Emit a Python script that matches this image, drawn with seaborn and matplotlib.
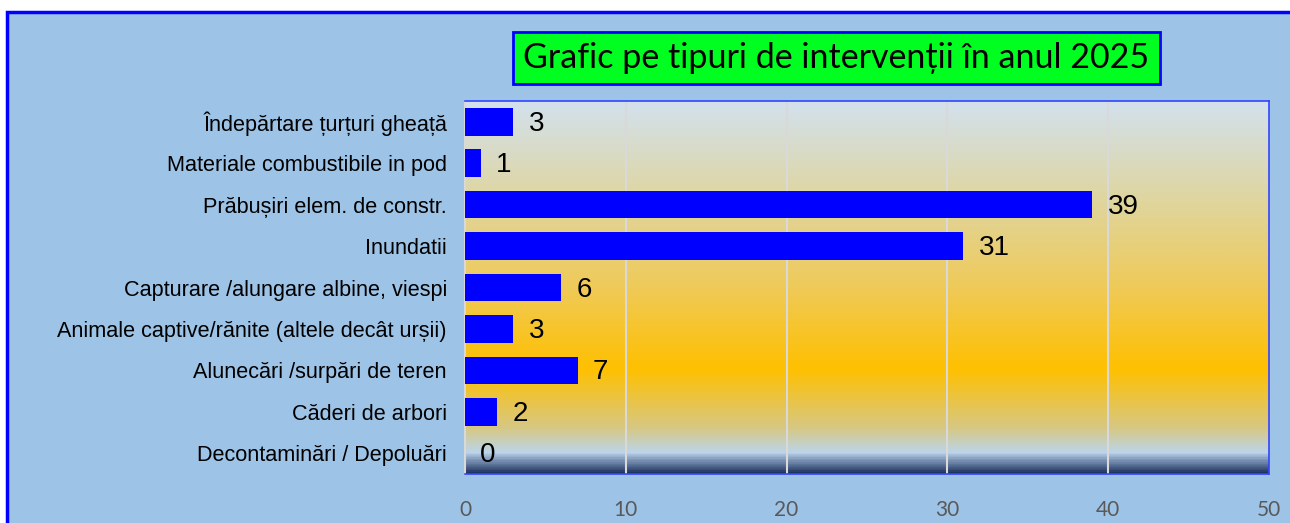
import numpy as np
import seaborn as sns
import matplotlib.pyplot as plt
from matplotlib.colors import LinearSegmentedColormap
from matplotlib.patches import Rectangle

categories = ["Îndepărtare țurțuri gheață",
              "Materiale combustibile in pod",
              "Prăbușiri elem. de constr.",
              "Inundatii",
              "Capturare /alungare albine, viespi",
              "Animale captive/rănite (altele decât urșii)",
              "Alunecări /surpări de teren",
              "Căderi de arbori",
              "Decontaminări / Depoluări"]
values = [3, 1, 39, 31, 6, 3, 7, 2, 0]
xticks = [0, 10, 20, 30, 40, 50]
title = "Grafic pe tipuri de intervenții în anul 2025"

sns.set_theme(style="white")
plt.rcParams['font.family'] = ['Liberation Sans', 'DejaVu Sans']

bg = "#9DC3E6"
fig = plt.figure(figsize=(12.9, 5.23), dpi=100)
fig.patch.set_facecolor("white")
# outer chart frame, kept behind the axes
fig.patches.append(Rectangle((7 / 1290, -0.05), 1.1, 1 - 12 / 523 + 0.05,
                             transform=fig.transFigure, facecolor=bg,
                             edgecolor="#0000FF", linewidth=2.5, zorder=-5))

ax = fig.add_axes([465 / 1290, 1 - 474 / 523, 804 / 1290, 373 / 523])

# gradient fill of plot area
grad = LinearSegmentedColormap.from_list("g", [
    (0.0, "#D3E1EE"),
    (0.25, "#DED6A3"),
    (0.5, "#EFCA58"),
    (0.72, "#FFC000"),
    (0.88, "#D6C885"),
    (0.945, "#BCD5EA"),
    (0.965, "#7F97B8"),
    (1.0, "#1F3460")])
ax.imshow(np.linspace(0, 1, 400).reshape(-1, 1), cmap=grad, aspect="auto",
          extent=[0, 1, 0, 1], transform=ax.transAxes, zorder=0)

sns.barplot(x=values, y=categories, orient="h", color="#0000FF",
            saturation=1, width=0.67, linewidth=0, ax=ax, zorder=3)

ax.set_xlim(0, 50)
ax.set_ylim(8.5, -0.5)
ax.set_xticks(xticks)
for t in xticks[1:-1]:
    ax.axvline(t, color="#D9D9D9", linewidth=1.5, zorder=1)

for i, v in enumerate(values):
    ax.text(v + 0.95, i + 0.05, str(v), va="center", ha="left", fontsize=20,
            color="black", zorder=4)

ax.tick_params(axis="x", length=0, pad=19, labelsize=15, labelcolor="#595959")
ax.tick_params(axis="y", length=0, pad=13, labelsize=15.6, labelcolor="black")
for lab in ax.get_xticklabels():
    lab.set_family(["Lato", "DejaVu Sans"])
ax.set_xlabel("")
ax.set_ylabel("")

for side in ["top", "right", "bottom"]:
    ax.spines[side].set_color("#3344FF")
    ax.spines[side].set_linewidth(1.2)
ax.spines["left"].set_color("#D9D9D9")
ax.spines["left"].set_linewidth(1.5)

fig.text((510 + 1163) / 2 / 1290, 1 - 58 / 523, title, ha="center", va="center",
         fontsize=24.5, family=["Lato", "DejaVu Sans"], color="black",
         bbox=dict(boxstyle="square,pad=0.3", facecolor="#00FF21",
                   edgecolor="#0000FF", linewidth=2))

fig.savefig("out.png", dpi=100, facecolor=fig.get_facecolor())
